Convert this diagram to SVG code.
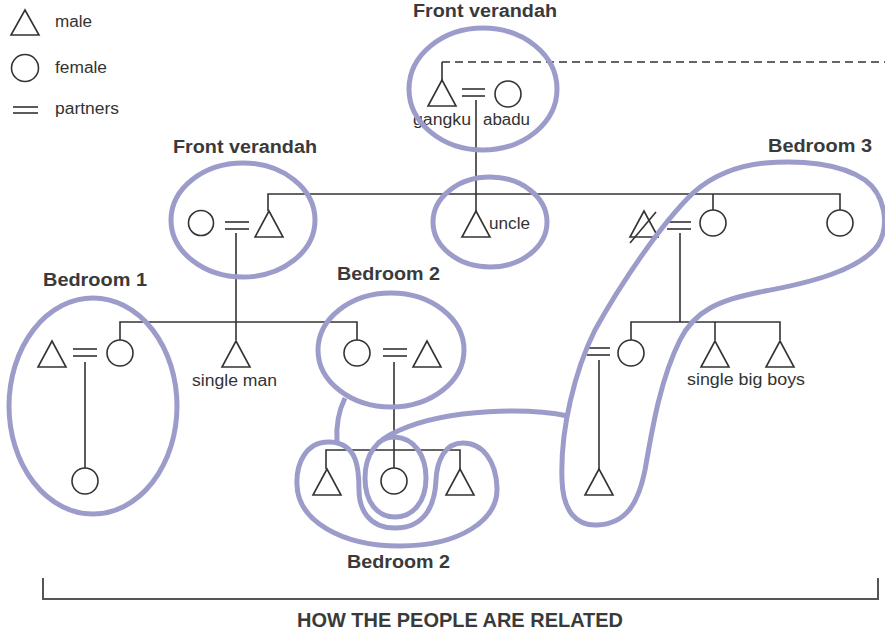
<svg xmlns="http://www.w3.org/2000/svg" width="885" height="630" viewBox="0 0 885 630">
<style>
.ln{stroke:#333;stroke-width:1.6;fill:none}
.sym{stroke:#333;stroke-width:1.6;fill:#fff}
.grp{stroke:#9c9cca;stroke-width:5;fill:none}
.lbl{font-family:"Liberation Sans",Arial,sans-serif;font-size:16px;fill:#333}
.hdr{font-family:"Liberation Sans",Arial,sans-serif;font-size:18px;font-weight:bold;fill:#3a3a3a}
.ttl{font-family:"Liberation Sans",Arial,sans-serif;font-size:20px;font-weight:bold;fill:#3a3a3a}
</style>
<defs>
<polygon id="tri" points="0,0 -14,26 14,26"/>
</defs>
<rect width="885" height="630" fill="#fff"/>

<g id="legend">
<polygon class="sym" points="25,10 11,35 39,35"/>
<text class="lbl" x="55" y="27" textLength="37" lengthAdjust="spacingAndGlyphs">male</text>
<circle class="sym" cx="25" cy="68" r="13.5"/>
<text class="lbl" x="55" y="73" textLength="52" lengthAdjust="spacingAndGlyphs">female</text>
<line class="ln" x1="13" y1="107" x2="38" y2="107"/>
<line class="ln" x1="13" y1="113" x2="38" y2="113"/>
<text class="lbl" x="55" y="114" textLength="64" lengthAdjust="spacingAndGlyphs">partners</text>
</g>

<g id="connectors">
<line class="ln" x1="442" y1="62" x2="442" y2="80"/>
<line class="ln" x1="442" y1="62" x2="885" y2="62" stroke-dasharray="8 5"/>
<line class="ln" x1="476" y1="100" x2="476" y2="211"/>
<polyline class="ln" points="268,211 268,194 840,194 840,210"/>
<line class="ln" x1="713" y1="194" x2="713" y2="210"/>
<line class="ln" x1="236" y1="233" x2="236" y2="340"/>
<polyline class="ln" points="120,340 120,322 357,322 357,340"/>
<line class="ln" x1="85" y1="362" x2="85" y2="468"/>
<line class="ln" x1="394" y1="362" x2="394" y2="468"/>
<polyline class="ln" points="326,469 326,450 460,450 460,469"/>
<line class="ln" x1="680" y1="233" x2="680" y2="322"/>
<polyline class="ln" points="631,340 631,322 780,322 780,340"/>
<line class="ln" x1="715" y1="322" x2="715" y2="340"/>
<line class="ln" x1="599" y1="360" x2="599" y2="470"/>
</g>

<g id="gen1">
<use href="#tri" class="sym" x="442" y="80"/>
<line class="ln" x1="462" y1="89" x2="485" y2="89"/>
<line class="ln" x1="462" y1="96" x2="485" y2="96"/>
<circle class="sym" cx="508" cy="94" r="13"/>
<text class="lbl" x="413" y="125" textLength="58" lengthAdjust="spacingAndGlyphs">gangku</text>
<text class="lbl" x="483" y="125" textLength="47" lengthAdjust="spacingAndGlyphs">abadu</text>
</g>

<g id="gen2-left">
<circle class="sym" cx="201" cy="223" r="12.5"/>
<line class="ln" x1="225" y1="222" x2="249" y2="222"/>
<line class="ln" x1="225" y1="229" x2="249" y2="229"/>
<use href="#tri" class="sym" x="269" y="211"/>
</g>

<g id="uncle">
<use href="#tri" class="sym" x="476" y="211"/>
<text class="lbl" x="489" y="229" textLength="41" lengthAdjust="spacingAndGlyphs">uncle</text>
</g>

<g id="gen2-right">
<use href="#tri" class="sym" x="644" y="211"/>
<line class="ln" x1="630" y1="243" x2="656" y2="212"/>
<line class="ln" x1="667" y1="222" x2="691" y2="222"/>
<line class="ln" x1="667" y1="229" x2="691" y2="229"/>
<circle class="sym" cx="713" cy="223" r="13"/>
<circle class="sym" cx="840" cy="223" r="13"/>
</g>

<g id="bedroom1-family">
<use href="#tri" class="sym" x="52" y="341"/>
<line class="ln" x1="73" y1="349" x2="97" y2="349"/>
<line class="ln" x1="73" y1="356" x2="97" y2="356"/>
<circle class="sym" cx="120" cy="353" r="13"/>
<circle class="sym" cx="85" cy="481" r="13"/>
</g>

<g id="single-man">
<use href="#tri" class="sym" x="236" y="341"/>
<text class="lbl" x="192" y="386" textLength="85" lengthAdjust="spacingAndGlyphs">single man</text>
</g>

<g id="bedroom2-family">
<circle class="sym" cx="357" cy="353" r="13"/>
<line class="ln" x1="383" y1="349" x2="407" y2="349"/>
<line class="ln" x1="383" y1="356" x2="407" y2="356"/>
<use href="#tri" class="sym" x="427" y="341"/>
<use href="#tri" class="sym" x="327" y="469"/>
<circle class="sym" cx="394" cy="481" r="13"/>
<use href="#tri" class="sym" x="460" y="469"/>
</g>

<g id="gen3-right">
<line class="ln" x1="587" y1="348" x2="610" y2="348"/>
<line class="ln" x1="587" y1="355" x2="610" y2="355"/>
<circle class="sym" cx="631" cy="353" r="13"/>
<use href="#tri" class="sym" x="599" y="469"/>
<use href="#tri" class="sym" x="715" y="341"/>
<use href="#tri" class="sym" x="780" y="341"/>
<text class="lbl" x="687" y="385" textLength="118" lengthAdjust="spacingAndGlyphs">single big boys</text>
</g>

<g id="rooms">
<ellipse class="grp" cx="483" cy="89" rx="74" ry="61"/>
<ellipse class="grp" cx="243" cy="220" rx="72" ry="57"/>
<ellipse class="grp" cx="490" cy="222" rx="57" ry="45"/>
<ellipse class="grp" cx="93" cy="406" rx="84" ry="108"/>
<ellipse class="grp" cx="391" cy="350" rx="73" ry="57"/>
<path class="grp" d="M 693,193 C 660,225 620,285 595,330 C 575,370 560,430 562,480 C 563,512 577,526 597,525 C 625,524 638,505 645,470 C 652,430 660,380 680,340 C 695,310 720,300 760,292 C 810,283 860,270 878,245 C 890,225 885,195 865,180 C 840,163 800,160 765,163 C 735,166 710,178 693,193 Z"/>
<path class="grp" d="M 359,490 C 359,470 358,443 330,442 C 305,441 296,465 297,485 C 298,520 340,546 400,546 C 460,546 498,520 497,488 C 496,460 482,443 463,443 C 445,443 437,460 436,480 C 435,505 425,528 395,528 C 368,528 359,508 359,490 Z"/>
<path class="grp" d="M 345,398 C 338,412 336,426 337,442"/>
<path class="grp" d="M 568,416 C 530,408 450,408 400,430 C 375,440 365,455 365,478 C 365,503 378,517 395,517 C 412,517 426,503 426,478 C 426,455 414,438 395,437 C 388,437 383,439 378,443"/>
</g>

<g id="labels">
<text class="hdr" x="413" y="17" textLength="144" lengthAdjust="spacingAndGlyphs">Front verandah</text>
<text class="hdr" x="173" y="153" textLength="144" lengthAdjust="spacingAndGlyphs">Front verandah</text>
<text class="hdr" x="768" y="152" textLength="104" lengthAdjust="spacingAndGlyphs">Bedroom 3</text>
<text class="hdr" x="43" y="286" textLength="104" lengthAdjust="spacingAndGlyphs">Bedroom 1</text>
<text class="hdr" x="337" y="280" textLength="103" lengthAdjust="spacingAndGlyphs">Bedroom 2</text>
<text class="hdr" x="347" y="568" textLength="103" lengthAdjust="spacingAndGlyphs">Bedroom 2</text>
</g>

<g id="footer">
<polyline points="43,578 43,599 878,599 878,578" fill="none" stroke="#555" stroke-width="2"/>
<text class="ttl" x="297" y="627" textLength="326" lengthAdjust="spacingAndGlyphs">HOW THE PEOPLE ARE RELATED</text>
</g>
</svg>
